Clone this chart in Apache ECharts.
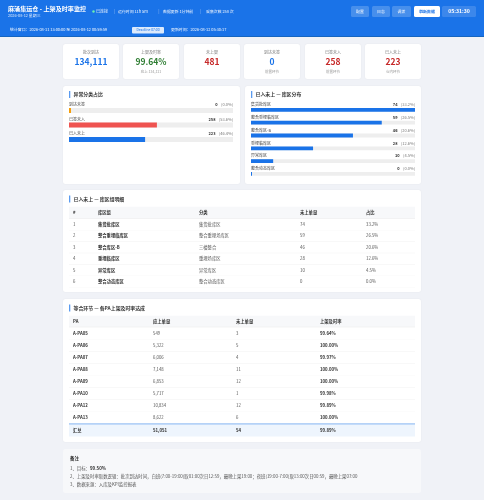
<!DOCTYPE html>
<html>
<head>
<meta charset="utf-8">
<style>
  html, body { margin: 0; padding: 0; background: #f0f2f7; }
  #main { width: 484px; height: 500px; }
</style>
<script src="https://cdn.jsdelivr.net/npm/echarts@6/dist/echarts.min.js"></script>
</head>
<body>
<div id="main"></div>
<script>
const kpiLabels = ['批次到达', '上架及时率', '未上架', '到达未签', '已签未入', '已入未上'];
const kpiValues = ['134,111', '99.64%', '481', '0', '258', '223'];
const kpiSubs = ['', '应上 134,111', '', '前置环节', '前置环节', '仓内环节'];
const kpiColors = ['#1a73e8', '#2e7d32', '#c62828', '#1a73e8', '#c62828', '#c62828'];

const typeNames = ['到达未签', '已签未入', '已入未上'];
const typeValues = [0, 258, 223];
const typeShares = [0, 53.6, 46.4];
const typeColors = ['#f59e0b', '#ef5350', '#1a73e8'];

const areaNames = ['集货批库区', '整合重埋临库区', '整合库区-B', '重埋临库区', '异常库区', '整合动态库区'];
const areaValues = [74, 59, 46, 28, 10, 0];
const areaShares = [33.2, 26.5, 20.6, 12.6, 4.5, 0.0];

const detailNames = ['集货批库区', '整合重埋临库区', '整合库区-B', '重埋临库区', '异常库区', '整合动态库区'];
const detailTypes = ['集货批库区', '整合重埋场库区', '三楼整合', '重埋场库区', '异常库区', '整合动态库区'];

const paNames = ['A-PA05', 'A-PA06', 'A-PA07', 'A-PA08', 'A-PA09', 'A-PA10', 'A-PA12', 'A-PA13'];
const paDue = ['549', '5,322', '6,006', '7,148', '6,853', '5,717', '10,834', '8,622'];
const paMissed = [3, 5, 4, 11, 12, 1, 12, 6];
const paRates = ['99.64%', '100.00%', '99.97%', '100.00%', '100.00%', '99.98%', '99.89%', '100.00%'];
const paTotal = ['汇总', '51,051', '54', '99.89%'];

const FONT = '"Noto Sans CJK SC", "Noto Sans", sans-serif';
const graphic = [];

function text(x, y, str, size, color, weight, align) {
  graphic.push({
    type: 'text', x, y, silent: true, z: 10,
    style: {
      text: str, fontSize: size, fill: color, fontFamily: FONT,
      fontWeight: weight || 'normal', align: align || 'left', verticalAlign: 'middle'
    }
  });
}
function rect(x, y, w, h, fill, r, shadow) {
  const el = { type: 'rect', silent: true, z: 1, shape: { x, y, width: w, height: h, r: r || 0 }, style: { fill } };
  if (shadow) { el.style.shadowBlur = 2; el.style.shadowColor = 'rgba(0,0,0,0.06)'; }
  graphic.push(el);
}
function panelTitle(x, y, str) {
  rect(x, y - 3.5, 1.3, 7, '#5a9bf0');
  text(x + 4.5, y, str, 4.9, '#333333', 'bold');
}

// 顶部
rect(0, 0, 484, 36, '#1a73e8');
rect(0, 36, 484, 1, '#1565c0');
text(8, 8.7, '麻涌集运仓 - 上架及时率监控', 6.1, '#ffffff', 'bold');
text(8, 15.5, '2026-08-12 星期三', 3.9, 'rgba(255,255,255,0.85)');
graphic.push({ type: 'circle', silent: true, z: 10, shape: { cx: 93.5, cy: 11.5, r: 1.2 }, style: { fill: '#69f0ae' } });
text(96, 11.5, '已连接', 4, 'rgba(255,255,255,0.9)');
[114, 158.6, 200.5].forEach(x => rect(x, 9, 0.5, 5, 'rgba(255,255,255,0.35)'));
text(118, 11.5, '运行时间 11h 5m', 3.9, 'rgba(255,255,255,0.95)');
text(163, 11.5, '数据更新 1分钟前', 3.9, 'rgba(255,255,255,0.95)');
text(206, 11.5, '采集次数 258 次', 3.9, 'rgba(255,255,255,0.95)');

[[351, 18, '配置'], [372, 18, '日志'], [392, 19, '调拨']].forEach(b => {
  rect(b[0], 6, b[1], 11, 'rgba(255,255,255,0.2)', 1.5);
  text(b[0] + b[1] / 2, 11.5, b[2], 3.9, '#ffffff', 'normal', 'center');
});
rect(414, 6, 26, 11, '#ffffff', 1.5);
text(427, 11.5, '刷新数据', 3.9, '#1a73e8', 'bold', 'center');
rect(442, 6, 34, 11, 'rgba(255,255,255,0.15)', 1.5);
text(459, 11.5, '05:31:30', 5.2, '#ffffff', 'bold', 'center');

text(10, 30, '统计窗口\uFF1A2026-08-11 13:00:00 至 2026-08-12 00:59:59', 3.9, 'rgba(255,255,255,0.95)');
rect(132, 27, 32, 6.5, 'rgba(255,255,255,0.85)', 1);
text(148, 30.2, 'Deadline 07:00', 3.4, '#1a73e8', 'normal', 'center');
text(171, 30, '更新时间\uFF1A2026-08-12 05:30:17', 3.9, 'rgba(255,255,255,0.95)');

// 指标卡
const kpiX = [63, 123, 184, 244, 305, 365];
kpiLabels.forEach((label, i) => {
  rect(kpiX[i], 44, 56, 35, '#ffffff', 2.5, true);
  const cx = kpiX[i] + 28;
  text(cx, 52.3, label, 4, '#777777', 'normal', 'center');
  text(cx, 62, kpiValues[i], 8.5, kpiColors[i], 'bold', 'center');
  if (kpiSubs[i]) text(cx, 71.3, kpiSubs[i], 3.5, '#999999', 'normal', 'center');
});

// 条形图面板
rect(63, 86, 177, 98, '#ffffff', 2.5, true);
rect(245, 86, 176, 98, '#ffffff', 2.5, true);
panelTitle(69, 94.5, '异常分类占比');
panelTitle(251, 94.5, '已入未上 — 库区分布');

function barLabels(x, right, centers, offset, names, values, shares) {
  names.forEach((name, i) => {
    const y = centers[i] - offset;
    text(x, y, name, 4, '#444444');
    graphic.push({
      type: 'text', x: right, y, silent: true, z: 10,
      style: {
        rich: { v: { fontSize: 4, fontWeight: 'bold', fill: '#333333', fontFamily: FONT },
                s: { fontSize: 4, fill: '#777777', fontFamily: FONT } },
        text: '{v|' + values[i] + '} {s|(' + shares[i].toFixed(1) + '%)}',
        align: 'right', verticalAlign: 'middle'
      }
    });
  });
}
barLabels(69, 233, [110.5, 125, 139.5], 5.8, typeNames, typeValues, typeShares);
barLabels(251, 415, [109.9, 122.7, 135.5, 148.3, 161.1, 173.9], 5.2, areaNames, areaValues, areaShares);

// 明细表
function cells(xs, y, row, styles) {
  row.forEach((c, i) => text(xs[i], y, String(c), 4.3, styles[i].color, styles[i].weight));
}
const HEAD = { color: '#333333', weight: 'bold' };
const BODY = { color: '#555555', weight: 'normal' };
const STRONG = { color: '#333333', weight: 'bold' };

rect(63, 190, 358, 102, '#ffffff', 2.5, true);
panelTitle(69, 199, '已入未上 — 库区组明细');
const detailX = [73, 98, 199, 300, 366];
rect(69, 206.7, 346, 11.6, '#f7f8fa');
rect(69, 218.3, 346, 0.5, '#e8e8e8');
cells(detailX, 212.7, ['#', '库区组', '分类', '未上单量', '占比'], [HEAD, HEAD, HEAD, HEAD, HEAD]);
detailNames.forEach((name, i) => {
  const y = 224.3 + i * 11.45;
  cells(detailX, y, [i + 1, name, detailTypes[i], areaValues[i], areaShares[i].toFixed(1) + '%'], [BODY, STRONG, BODY, BODY, BODY]);
  rect(69, y + 5.6, 346, 0.4, '#f2f2f2');
});

rect(63, 299, 358, 143, '#ffffff', 2.5, true);
panelTitle(69, 308, '等合环节 — 各PA上架及时率达成');
const paX = [73, 153, 236, 320];
rect(69, 315.7, 346, 11, '#f7f8fa');
rect(69, 326.7, 346, 0.5, '#e8e8e8');
cells(paX, 321, ['PA', '应上单量', '未上单量', '上架及时率'], [HEAD, HEAD, HEAD, HEAD]);
paNames.forEach((name, i) => {
  const y = 333.2 + i * 12.08;
  cells(paX, y, [name, paDue[i], paMissed[i], paRates[i]], [STRONG, BODY, BODY, STRONG]);
  if (i < paNames.length - 1) rect(69, y + 6, 346, 0.4, '#f2f2f2');
});
rect(69, 423.2, 346, 1.6, '#9cc3f5');
rect(69, 424.8, 346, 11.7, '#eef5fd');
cells(paX, 430.5, paTotal, [STRONG, STRONG, STRONG, STRONG]);

// 备注
rect(63, 449, 358, 44, '#f7f8fa', 2.5);
text(70, 458, '备注', 4.4, '#333333', 'bold');
graphic.push({
  type: 'text', x: 70, y: 468, silent: true, z: 10,
  style: {
    rich: { a: { fontSize: 4.4, fill: '#555555', fontFamily: FONT },
            b: { fontSize: 4.4, fill: '#333333', fontWeight: 'bold', fontFamily: FONT } },
    text: '{a|1、目标\uFF1A}{b|99.50%}', verticalAlign: 'middle'
  }
});
text(70, 476, '2、上架及时率取数逻辑\uFF1A批次到达时间\uFF0C白班(7:00-19:00)取01:00次日12:59\uFF0C最晚上架19:00\uFF1B夜班(19:00-7:00)取13:00次日00:59\uFF0C最晚上架07:00', 4.4, '#555555');
text(70, 484, '3、数据来源\uFF1A入库及KPI监控报表', 4.4, '#555555');

// 轴: 左边按占比, 右边按最大单量
const trackStyle = { color: '#eeeeee' };
const option = {
  animation: false,
  backgroundColor: '#f0f2f7',
  grid: [
    { left: 69, width: 164, top: 103.25, height: 43.5 },
    { left: 251, width: 164, top: 103.5, height: 76.8 }
  ],
  xAxis: [
    { gridIndex: 0, type: 'value', min: 0, max: 100, show: false },
    { gridIndex: 1, type: 'value', min: 0, max: Math.max(...areaValues), show: false }
  ],
  yAxis: [
    { gridIndex: 0, type: 'category', inverse: true, data: typeNames, show: false },
    { gridIndex: 1, type: 'category', inverse: true, data: areaNames, show: false }
  ],
  graphic: { elements: graphic },
  series: [
    { type: 'bar', xAxisIndex: 0, yAxisIndex: 0, z: 3, barWidth: 5, barGap: '-100%', silent: true,
      data: typeNames.map(() => 100), itemStyle: trackStyle },
    { type: 'bar', xAxisIndex: 0, yAxisIndex: 0, z: 4, barWidth: 5, barGap: '-100%', barMinHeight: 2, silent: true,
      data: typeShares.map((v, i) => ({ value: v, itemStyle: { color: typeColors[i] } })) },
    { type: 'bar', xAxisIndex: 1, yAxisIndex: 1, z: 3, barWidth: 3.8, barGap: '-100%', silent: true,
      data: areaNames.map(() => Math.max(...areaValues)), itemStyle: trackStyle },
    { type: 'bar', xAxisIndex: 1, yAxisIndex: 1, z: 4, barWidth: 3.8, barGap: '-100%', barMinHeight: 1, silent: true,
      data: areaValues, itemStyle: { color: '#1a73e8' } }
  ]
};

const chart = echarts.init(document.getElementById('main'), null, { renderer: 'canvas' });
chart.setOption(option);
</script>
</body>
</html>
